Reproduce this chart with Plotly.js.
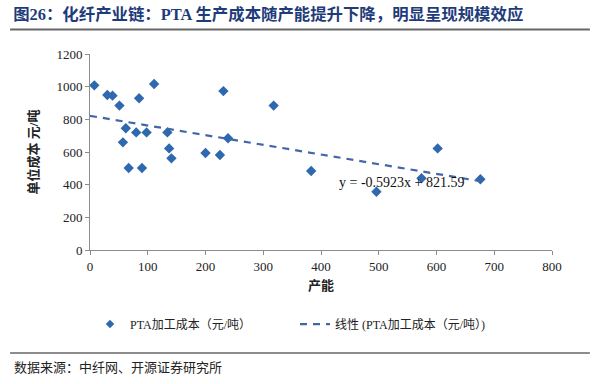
<!DOCTYPE html>
<html>
<head>
<meta charset="utf-8">
<script src="https://cdn.plot.ly/plotly-3.0.1.min.js"></script>
<style>html,body{margin:0;padding:0;background:#fff;}#chart{width:600px;height:384px;}</style>
</head>
<body>
<div id="chart"></div>
<script>
// Capacity (产能) and unit processing cost (元/吨)
var capacity = [7.5, 30, 39, 51, 85, 111, 231, 318, 62, 80, 98, 134, 57, 137, 141, 200, 225, 239, 67, 90, 602, 383, 496, 574, 676];
var unitCost = [1008, 949, 945, 884, 929, 1016, 973, 884, 745, 720, 720, 720, 659, 622, 561, 594, 582, 684, 502, 502, 622, 484, 357, 439, 433];
// Trendline coefficients as printed on the chart
var trendSlope = -0.5923;
var trendIntercept = 821.59;
var xTicks = [0, 100, 200, 300, 400, 500, 600, 700, 800];
var yTicks = [0, 200, 400, 600, 800, 1000, 1200];

var xMin = 0, xMax = Math.max.apply(null, capacity);
var trendX = [xMin, xMax];
var trendY = trendX.map(function (v) { return trendSlope * v + trendIntercept; });

var serif = 'Liberation Serif, Times New Roman, serif';
var cjk = 'Liberation Serif, Noto Sans CJK SC, serif';

var data = [
  {
    x: capacity, y: unitCost, type: 'scatter', mode: 'markers',
    name: 'PTA加工成本（元/吨）', showlegend: false, legendgroup: 'pts',
    marker: {symbol: 'diamond', size: 8, color: '#2E68AE'},
    hoverinfo: 'x+y'
  },
  {
    x: [null], y: [null], type: 'scatter', mode: 'markers',
    name: 'PTA加工成本（元/吨）', legendgroup: 'pts',
    marker: {symbol: 'diamond', size: 6.5, color: '#2E68AE'}
  },
  {
    x: trendX, y: trendY, type: 'scatter', mode: 'lines',
    name: '线性 (PTA加工成本（元/吨）)',
    line: {color: '#4167A6', width: 2.2, dash: '7px,6px'}
  }
];

var layout = {
  width: 600, height: 384,
  margin: {l: 90, r: 48, t: 54, b: 134},
  paper_bgcolor: '#ffffff', plot_bgcolor: '#ffffff',
  showlegend: true,
  font: {family: cjk, color: '#222', size: 12},
  title: {
    text: '<b>图26：化纤产业链：PTA 生产成本随产能提升下降，明显呈现规模效应</b>',
    x: 0.022, xanchor: 'left', xref: 'container', y: 0.962, yanchor: 'middle', yref: 'container',
    font: {family: 'Liberation Serif, Noto Sans CJK SC, serif', size: 16.4, color: '#1F3C7A'}
  },
  xaxis: {
    range: [0, 800], tickvals: xTicks, ticktext: xTicks.map(String),
    showgrid: false, zeroline: false, showline: true, linecolor: '#8c8c8c', linewidth: 1,
    ticks: 'outside', ticklen: 4, tickcolor: '#8c8c8c',
    tickfont: {family: serif, size: 13, color: '#222'},
    title: {text: '<b>产能</b>', font: {family: cjk, size: 13, color: '#222'}, standoff: 8}
  },
  yaxis: {
    range: [0, 1200], tickvals: yTicks, ticktext: yTicks.map(String),
    showgrid: false, zeroline: false, showline: true, linecolor: '#8c8c8c', linewidth: 1,
    ticks: 'outside', ticklen: 4, tickcolor: '#8c8c8c',
    tickfont: {family: serif, size: 13, color: '#222'},
    title: {text: '<b>单位成本 元/吨</b>', font: {family: cjk, size: 13, color: '#222'}, standoff: 14}
  },
  legend: {
    orientation: 'h', x: 0.0, xanchor: 'left', y: -0.378, yanchor: 'middle',
    font: {family: cjk, size: 12, color: '#222'},
    itemwidth: 30, entrywidth: 160, entrywidthmode: 'pixels', tracegroupgap: 0, bgcolor: 'rgba(0,0,0,0)'
  },
  annotations: [
    {
      x: 540, y: 416, xref: 'x', yref: 'y', showarrow: false,
      text: 'y = -0.5923x + 821.59',
      font: {family: serif, size: 14, color: '#111'}
    },
    {
      x: -0.168, y: -0.6, xref: 'paper', yref: 'paper', xanchor: 'left', yanchor: 'middle',
      showarrow: false, text: '数据来源：中纤网、开源证券研究所',
      font: {family: cjk, size: 13, color: '#222'}
    }
  ],
  shapes: [
    {type: 'line', xref: 'paper', yref: 'paper', x0: -0.173, x1: 1.082, y0: 1.125, y1: 1.125,
     line: {color: '#666666', width: 2}, layer: 'above'},
    {type: 'line', xref: 'paper', yref: 'paper', x0: -0.173, x1: 1.082, y0: -0.5255, y1: -0.5255,
     line: {color: '#666666', width: 1.5}, layer: 'above'}
  ]
};

Plotly.newPlot('chart', data, layout, {staticPlot: true, displayModeBar: false});
</script>
</body>
</html>
